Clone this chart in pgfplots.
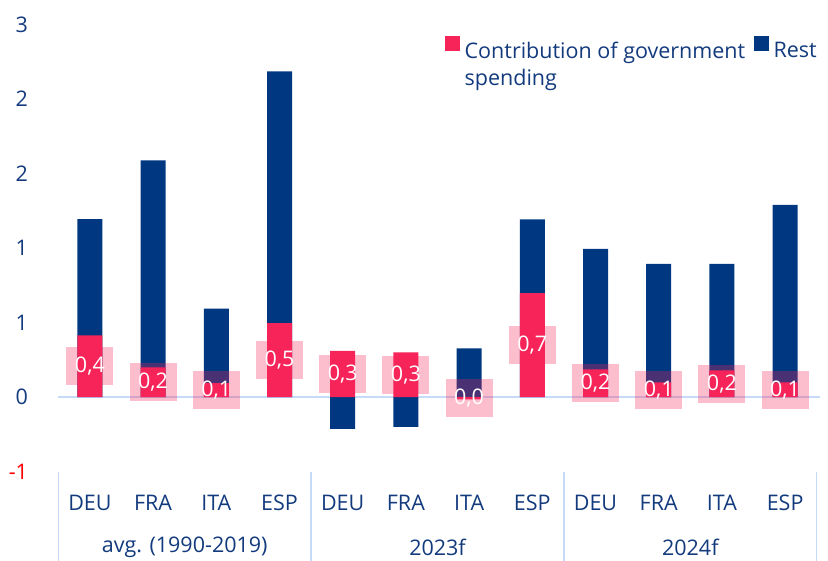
\documentclass[border=0pt]{standalone}
\usepackage{pgfplots}
\pgfplotsset{compat=1.18}
\usepackage{pgfplotstable}
\usepackage{fontspec}
\setmainfont{Open Sans}
\definecolor{govred}{RGB}{246,36,89}
\definecolor{azblue}{RGB}{0,55,129}
\definecolor{txtblue}{RGB}{18,58,125}
\definecolor{linblue}{RGB}{198,219,247}
\newcommand{\chfont}{\fontsize{21.5}{27}\selectfont}
\pgfplotstableread{
x gov rest lab
0 0.415 0.78 0,4
1 0.20 1.39 0,2
2 0.095 0.50 0,1
3 0.497 1.69 0,5
4 0.311 -0.212 0,3
5 0.30 -0.199 0,3
6 -0.015 0.327 0,0
7 0.698 0.495 0,7
8 0.186 0.81 0,2
9 0.10 0.795 0,1
10 0.18 0.715 0,2
11 0.10 1.19 0,1
}\data
\begin{document}
\begin{tikzpicture}
\begin{axis}[
  at={(0,0)}, anchor=south west,
  width=758.4pt, height=447pt, scale only axis,
  xmin=-0.5, xmax=11.5, ymin=-0.5, ymax=2.5,
  clip=false,
  axis lines=left, axis line style={draw=none}, tick style={draw=none},
  xtick={0,...,11},
  xticklabels={DEU,FRA,ITA,ESP,DEU,FRA,ITA,ESP,DEU,FRA,ITA,ESP},
  ytick={-0.5,0,0.5,1,1.5,2,2.5},
  yticklabels={\textcolor{red}{-1},0,1,1,2,2,3},
  tick label style={font=\chfont, text=txtblue},
  xticklabel style={anchor=center, yshift=-29.3pt},
  yticklabel style={anchor=east, inner sep=0pt, xshift=-28pt},
  legend style={draw=none, fill=none, inner sep=0pt, at={(rel axis cs:0.51,0.975)}, anchor=north west,
    font=\chfont, text=txtblue, /tikz/every even column/.append style={column sep=7pt},
    /tikz/every odd column/.append style={column sep=3pt},
    cells={anchor=base west}},
  legend columns=2, legend cell align=left,
]
\addlegendimage{legend image code/.code={\fill[govred] (0pt,0pt) rectangle (14pt,14pt);}}
\addlegendimage{legend image code/.code={\fill[azblue] (0pt,0pt) rectangle (14pt,14pt);}}
\draw[linblue, line width=1.5pt] (axis cs:-0.5,0) -- (axis cs:11.55,0);
\addplot[forget plot, ybar, bar width=25pt, bar shift=0pt, fill=azblue, draw=none]
  table[x=x, y expr={\thisrow{rest}<0 ? \thisrow{rest} : \thisrow{rest}+max(\thisrow{gov},0)}] {\data};
\addplot[forget plot, ybar, bar width=25pt, bar shift=0pt, fill=govred, draw=none]
  table[x=x, y=gov] {\data};
\addplot[forget plot, draw=none, mark=none, nodes near coords, point meta=explicit symbolic,
  every node near coord/.append style={anchor=center, fill=govred, fill opacity=0.3, text opacity=1,
    text=white, minimum width=47pt, minimum height=38pt, inner sep=0pt, font=\chfont}]
  table[x=x, y expr=\thisrow{gov}/2, meta=lab] {\data};
\pgfplotsinvokeforeach{-0.5,3.5,7.5,11.5}{
  \draw[linblue, line width=1.5pt] (axis cs:#1,-0.5) -- ++(0pt,-90pt);
}
\node[font=\chfont, text=txtblue] at (axis cs:1.5,-0.5) [yshift=-75.3pt] {avg. (1990-2019)};
\node[font=\chfont, text=txtblue] at (axis cs:5.5,-0.5) [yshift=-75.3pt] {2023f};
\node[font=\chfont, text=txtblue] at (axis cs:9.5,-0.5) [yshift=-75.3pt] {2024f};
\legend{{\begin{tabular}[t]{@{}l@{}}Contribution of government\\spending\end{tabular}},Rest}
\end{axis}
\pgfresetboundingbox
\path[use as bounding box] (-58.3pt,-89.3pt) rectangle (769.7pt,471.7pt);
\end{tikzpicture}
\end{document}
